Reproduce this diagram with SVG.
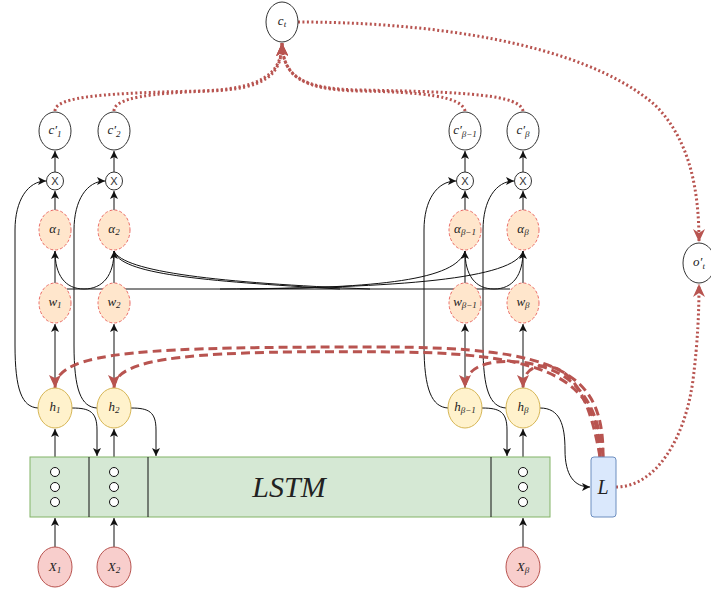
<svg xmlns="http://www.w3.org/2000/svg" width="711" height="592" viewBox="0 0 711 592">
<defs>
<style>
.lbl{font-family:"Liberation Serif","DejaVu Serif",serif;font-style:italic;font-size:13px;fill:#222;text-anchor:middle}
.sub{font-size:9px}
.plain{fill:#fff;stroke:#333;stroke-width:1}
.att{fill:#ffe6cc;stroke:#ea6b66;stroke-width:1;stroke-dasharray:3 2}
.hid{fill:#fff2cc;stroke:#d6b656;stroke-width:1}
.inp{fill:#f8cecc;stroke:#b85450;stroke-width:1}
.blk{fill:none;stroke:#111;stroke-width:1}
.arr{marker-end:url(#ab)}
.rdash{fill:none;stroke:#b85450;stroke-width:3;stroke-dasharray:9 5;marker-end:url(#ar)}
.rdot{fill:none;stroke:#b85450;stroke-width:3;stroke-dasharray:2 2.5;marker-end:url(#ar2)}
.mult{font-family:"Liberation Sans","DejaVu Sans",sans-serif;font-size:11px;fill:#333;text-anchor:middle}
.cell{fill:#fff;stroke:#111;stroke-width:1}
</style>
<marker id="ab" markerUnits="userSpaceOnUse" markerWidth="10" markerHeight="8" refX="8" refY="4" orient="auto"><path d="M0,0 L8,4 L0,8 L2,4 z" fill="#111"/></marker>
<marker id="ar" markerUnits="userSpaceOnUse" markerWidth="14" markerHeight="12" refX="13" refY="6" orient="auto"><path d="M0,0 L13,6 L0,12 L3,6 z" fill="#b85450"/></marker>
<marker id="ar2" markerUnits="userSpaceOnUse" markerWidth="14" markerHeight="12" refX="13" refY="6" orient="auto"><path d="M0,0 L13,6 L0,12 L4,6 z" fill="#b85450"/></marker>
</defs>
<rect width="711" height="592" fill="#fff"/>

<g id="connectors">
<path class="blk" d="M67 289 L510 289"/>
<path class="blk" d="M84 289 C65 289,55 275,55 251"/>
<path class="blk" d="M84 289 C103 289,114 275,114 251"/>
<path class="blk" d="M114 251 C120 274,200 281,340 289"/>
<path class="blk" d="M114 251 C123 272,220 283,370 289"/>
<path class="blk" d="M240 289 C380 288,456 280,465 251"/>
<path class="blk" d="M220 289 C400 288,515 279,523 251"/>
<path class="blk" d="M494 289 C475 289,465 275,465 251"/>
<path class="blk" d="M494 289 C513 289,523 275,523 251"/>
<g class="blk arr">
<path d="M55 547 L55 518"/><path d="M114 547 L114 518"/><path d="M523 547 L523 518"/>
<path d="M55 457 L55 429"/><path d="M114 457 L114 429"/><path d="M523 457 L523 429"/>
<path d="M55 388 L55 324"/><path d="M114 388 L114 324"/><path d="M465 388 L465 324"/><path d="M523 388 L523 324"/>
<path d="M55 283 L55 251"/><path d="M114 283 L114 251"/><path d="M465 283 L465 251"/><path d="M523 283 L523 251"/>
<path d="M55 210 L55 191"/><path d="M114 210 L114 191"/><path d="M465 210 L465 191"/><path d="M523 210 L523 191"/>
<path d="M55 172 L55 151"/><path d="M114 172 L114 151"/><path d="M465 172 L465 151"/><path d="M523 172 L523 151"/>
<path d="M38 408 C22 407,15 390,15 345 L15 230 C15 200,28 181,46 181"/>
<path d="M97 408 C81 407,74 390,74 345 L74 230 C74 200,87 181,105 181"/>
<path d="M448 408 C432 407,424 390,424 345 L424 230 C424 200,437 181,456 181"/>
<path d="M506 408 C490 407,483 390,483 345 L483 230 C483 200,496 181,514 181"/>
<path d="M72 408 C90 408,97 412,97 430 L97 456"/>
<path d="M131 408 C149 408,156 412,156 430 L156 456"/>
<path d="M482 408 C500 408,507 412,507 430 L507 456"/>
<path d="M540 408 C560 408,565 425,565 450 C565 475,574 487,590 487"/>
</g>
<path class="rdash" d="M603 457 C604 372,560 347,380 347 C150 347,55 350,55 388"/>
<path class="rdash" d="M600 457 C598 385,560 354,400 352 C200 350,114 356,114 388"/>
<path class="rdash" d="M603 457 C598 398,572 368,520 362 C485 359,465 368,465 388"/>
<path class="rdash" d="M600 457 C592 410,578 376,555 368 C535 362,523 370,523 388"/>
<path class="rdot" d="M55 111 C55 96,110 93,200 91 C260 89,282 75,282 43"/>
<path class="rdot" d="M114 111 C114 98,150 93,210 91 C265 89,282 75,282 43"/>
<path class="rdot" d="M465 111 C462 96,420 92,360 91 C300 90,283 75,282 43"/>
<path class="rdot" d="M523 111 C520 95,470 92,360 90 C300 89,283 75,282 43"/>
<path class="rdot" d="M298 22 C420 22,580 40,655 105 C690 140,699 190,699 242"/>
<path class="rdot" d="M616 487 C655 487,685 440,693 380 C698 340,699 310,699 284"/>
</g>

<g id="lstm">
<rect x="30" y="457" width="520" height="60" fill="#d5e8d4" stroke="#82b366" stroke-width="1"/>
<path d="M89 457 L89 517 M148 457 L148 517 M491 457 L491 517" stroke="#111" stroke-width="1"/>
<g class="cell">
<circle cx="55" cy="472" r="4.5"/><circle cx="55" cy="487" r="4.5"/><circle cx="55" cy="502" r="4.5"/>
<circle cx="114" cy="472" r="4.5"/><circle cx="114" cy="487" r="4.5"/><circle cx="114" cy="502" r="4.5"/>
<circle cx="523" cy="472" r="4.5"/><circle cx="523" cy="487" r="4.5"/><circle cx="523" cy="502" r="4.5"/>
</g>
<text x="289" y="497" class="lbl" style="font-size:30px">LSTM</text>
</g>

<g id="L">
<rect x="591" y="457" width="25" height="60" rx="3" fill="#dae8fc" stroke="#6c8ebf"/>
<text x="603" y="494" class="lbl" style="font-size:20px">L</text>
</g>

<g id="ct"><ellipse cx="282" cy="22" rx="16" ry="20" class="plain"/><text x="282" y="25" class="lbl">c<tspan class="sub" dy="2">t</tspan></text></g>
<g id="ot"><ellipse cx="699" cy="263" rx="16" ry="20" class="plain"/><text x="699" y="266" class="lbl">o′<tspan class="sub" dy="3">t</tspan></text></g>

<g id="cp1"><ellipse cx="55" cy="131" rx="16" ry="19" class="plain"/><text x="55" y="134" class="lbl">c′<tspan class="sub" dy="3">1</tspan></text></g>
<g id="cp2"><ellipse cx="114" cy="131" rx="16" ry="19" class="plain"/><text x="114" y="134" class="lbl">c′<tspan class="sub" dy="3">2</tspan></text></g>
<g id="cpb1"><ellipse cx="465" cy="131" rx="16" ry="19" class="plain"/><text x="465" y="134" class="lbl">c′<tspan class="sub" dy="3">β−1</tspan></text></g>
<g id="cpb"><ellipse cx="523" cy="131" rx="16" ry="19" class="plain"/><text x="523" y="134" class="lbl">c′<tspan class="sub" dy="3">β</tspan></text></g>

<g id="m1"><ellipse cx="55" cy="181" rx="8.5" ry="9" class="plain"/><text x="55" y="185" class="mult">X</text></g>
<g id="m2"><ellipse cx="114" cy="181" rx="8.5" ry="9" class="plain"/><text x="114" y="185" class="mult">X</text></g>
<g id="mb1"><ellipse cx="465" cy="181" rx="8.5" ry="9" class="plain"/><text x="465" y="185" class="mult">X</text></g>
<g id="mb"><ellipse cx="523" cy="181" rx="8.5" ry="9" class="plain"/><text x="523" y="185" class="mult">X</text></g>

<g id="a1"><ellipse cx="55" cy="230" rx="16" ry="20" class="att"/><text x="55" y="233" class="lbl">α<tspan class="sub" dy="2">1</tspan></text></g>
<g id="a2"><ellipse cx="114" cy="230" rx="16" ry="20" class="att"/><text x="114" y="233" class="lbl">α<tspan class="sub" dy="2">2</tspan></text></g>
<g id="ab1"><ellipse cx="465" cy="230" rx="16" ry="20" class="att"/><text x="465" y="233" class="lbl">α<tspan class="sub" dy="2">β−1</tspan></text></g>
<g id="abt"><ellipse cx="523" cy="230" rx="16" ry="20" class="att"/><text x="523" y="233" class="lbl">α<tspan class="sub" dy="2">β</tspan></text></g>

<g id="w1"><ellipse cx="55" cy="303" rx="16" ry="20" class="att"/><text x="55" y="306" class="lbl">w<tspan class="sub" dy="2">1</tspan></text></g>
<g id="w2"><ellipse cx="114" cy="303" rx="16" ry="20" class="att"/><text x="114" y="306" class="lbl">w<tspan class="sub" dy="2">2</tspan></text></g>
<g id="wb1"><ellipse cx="465" cy="303" rx="16" ry="20" class="att"/><text x="465" y="306" class="lbl">w<tspan class="sub" dy="2">β−1</tspan></text></g>
<g id="wb"><ellipse cx="523" cy="303" rx="16" ry="20" class="att"/><text x="523" y="306" class="lbl">w<tspan class="sub" dy="2">β</tspan></text></g>

<g id="h1"><ellipse cx="55" cy="408" rx="17" ry="20" class="hid"/><text x="55" y="411" class="lbl">h<tspan class="sub" dy="2">1</tspan></text></g>
<g id="h2"><ellipse cx="114" cy="408" rx="17" ry="20" class="hid"/><text x="114" y="411" class="lbl">h<tspan class="sub" dy="2">2</tspan></text></g>
<g id="hb1"><ellipse cx="465" cy="408" rx="17" ry="20" class="hid"/><text x="465" y="411" class="lbl">h<tspan class="sub" dy="2">β−1</tspan></text></g>
<g id="hb"><ellipse cx="523" cy="408" rx="17" ry="20" class="hid"/><text x="523" y="411" class="lbl">h<tspan class="sub" dy="2">β</tspan></text></g>

<g id="x1"><ellipse cx="55" cy="567" rx="17" ry="20" class="inp"/><text x="55" y="571" class="lbl">X<tspan class="sub" dy="2">1</tspan></text></g>
<g id="x2"><ellipse cx="114" cy="567" rx="17" ry="20" class="inp"/><text x="114" y="571" class="lbl">X<tspan class="sub" dy="2">2</tspan></text></g>
<g id="xb"><ellipse cx="523" cy="567" rx="17" ry="20" class="inp"/><text x="523" y="571" class="lbl">X<tspan class="sub" dy="2">β</tspan></text></g>
</svg>
